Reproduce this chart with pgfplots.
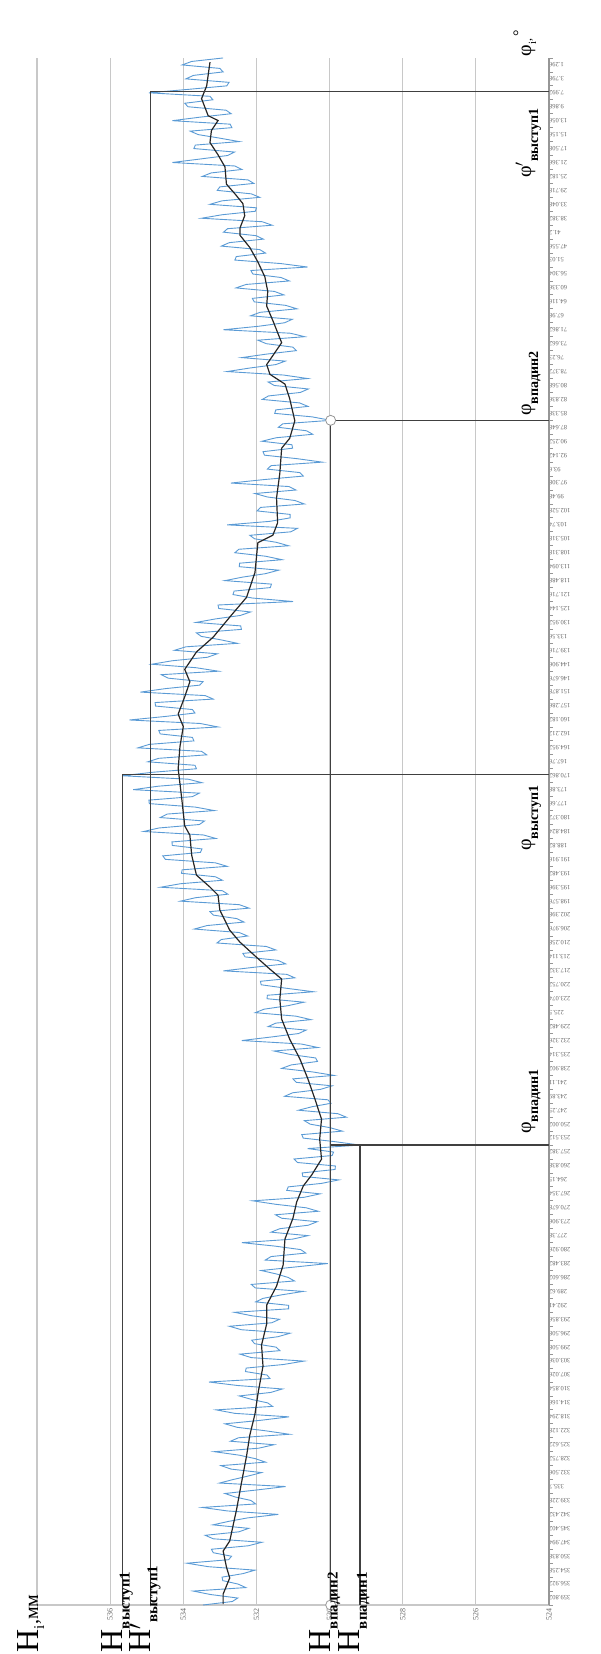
\documentclass[border=0pt]{standalone}
\usepackage{fontspec}
\setmainfont{Liberation Serif}
\usepackage{pgfplots}
\pgfplotsset{compat=1.18}
\usepackage{pgfplotstable}

\definecolor{rawblue}{RGB}{91,155,213}
\definecolor{gridgray}{RGB}{200,200,200}
\definecolor{axgray}{RGB}{150,150,150}
\definecolor{markgray}{RGB}{64,64,64}

\pgfplotstableread[row sep=\\]{
s h \\
0 533.46 \\ 0.25 532.66 \\ 0.5 532.51 \\ 0.75 533.25 \\ 1 533.73 \\ 1.25 532.29 \\ 1.5 532.50 \\ 1.75 532.92 \\ 2 532.94 \\ 2.25 532.37 \\ 2.5 532.04 \\ 2.75 533.32 \\ 3 533.90 \\ 3.25 532.76 \\ 3.5 532.68 \\ 3.75 533.18 \\ 4 533.23 \\ 4.25 532.22 \\ 4.5 531.85 \\ 4.75 533.18 \\
5 533.40 \\ 5.25 532.48 \\ 5.5 532.21 \\ 5.75 533.19 \\ 6 532.76 \\ 6.25 532.24 \\ 6.5 531.40 \\ 6.75 532.80 \\ 7 533.48 \\ 7.25 532.02 \\ 7.5 532.15 \\ 7.75 532.58 \\ 8 532.86 \\ 8.25 532.00 \\ 8.5 531.20 \\ 8.75 533.01 \\ 9 532.64 \\ 9.25 532.23 \\ 9.5 531.86 \\ 9.75 532.69 \\
10 532.97 \\ 10.25 531.75 \\ 10.5 532.03 \\ 10.75 532.47 \\ 11 533.15 \\ 11.25 531.94 \\ 11.5 531.52 \\ 11.75 532.71 \\ 12 532.49 \\ 12.25 531.10 \\ 12.5 531.75 \\ 12.75 532.53 \\ 13 532.86 \\ 13.25 531.89 \\ 13.5 531.11 \\ 13.75 532.59 \\ 14 533.10 \\ 14.25 531.56 \\ 14.5 531.69 \\ 14.75 532.13 \\
15 532.47 \\ 15.25 531.61 \\ 15.5 531.29 \\ 15.75 532.52 \\ 16 533.30 \\ 16.25 531.63 \\ 16.5 531.71 \\ 16.75 532.30 \\ 17 532.28 \\ 17.25 531.28 \\ 17.5 530.70 \\ 17.75 532.14 \\ 18 532.45 \\ 18.25 531.36 \\ 18.5 531.46 \\ 18.75 532.05 \\ 19 532.13 \\ 19.25 531.41 \\ 19.5 531.08 \\ 19.75 532.41 \\
20 532.74 \\ 20.25 531.58 \\ 20.5 531.37 \\ 20.75 532.12 \\ 21 532.60 \\ 21.25 531.12 \\ 21.5 531.12 \\ 21.75 532.02 \\ 22 531.82 \\ 22.25 531.32 \\ 22.5 530.72 \\ 22.75 532.03 \\ 23 532.14 \\ 23.25 530.96 \\ 23.5 531.13 \\ 23.75 531.45 \\ 24 531.87 \\ 24.25 530.95 \\ 24.5 530.05 \\ 24.75 531.76 \\
25 531.60 \\ 25.25 530.65 \\ 25.5 530.79 \\ 25.75 531.49 \\ 26 532.40 \\ 26.25 531.01 \\ 26.5 530.59 \\ 26.75 531.60 \\ 27 531.36 \\ 27.25 530.58 \\ 27.5 530.34 \\ 27.75 531.31 \\ 28 531.48 \\ 28.25 530.31 \\ 28.5 530.64 \\ 28.75 531.47 \\ 29 532.10 \\ 29.25 530.70 \\ 29.5 530.26 \\ 29.75 531.17 \\
30 531.13 \\ 30.25 530.22 \\ 30.5 529.75 \\ 30.75 530.73 \\ 31 530.75 \\ 31.25 529.85 \\ 31.5 529.84 \\ 31.75 530.88 \\ 32 530.97 \\ 32.25 529.93 \\ 32.5 529.89 \\ 32.75 530.60 \\ 33 529.17 \\ 33.25 529.87 \\ 33.5 530.72 \\ 33.75 530.76 \\ 34 529.65 \\ 34.25 529.99 \\ 34.5 530.53 \\ 34.75 530.69 \\
35 529.54 \\ 35.25 529.77 \\ 35.5 530.85 \\ 35.75 530.48 \\ 36 529.96 \\ 36.25 530.05 \\ 36.5 531.23 \\ 36.75 531.01 \\ 37 530.24 \\ 37.25 529.93 \\ 37.5 530.91 \\ 37.75 531.00 \\ 38 529.88 \\ 38.25 530.47 \\ 38.5 531.31 \\ 38.75 531.05 \\ 39 530.33 \\ 39.25 530.38 \\ 39.5 531.07 \\ 39.75 531.52 \\
40 530.32 \\ 40.25 530.77 \\ 40.5 532.40 \\ 40.75 531.61 \\ 41 530.85 \\ 41.25 530.64 \\ 41.5 531.68 \\ 41.75 531.47 \\ 42 530.51 \\ 42.25 530.92 \\ 42.5 532.03 \\ 42.75 531.79 \\ 43 531.14 \\ 43.25 530.70 \\ 43.5 531.71 \\ 43.75 531.70 \\ 44 530.44 \\ 44.25 531.18 \\ 44.5 531.87 \\ 44.75 531.89 \\
45 530.95 \\ 45.25 531.17 \\ 45.5 532.90 \\ 45.75 532.09 \\ 46 531.20 \\ 46.25 531.41 \\ 46.5 532.31 \\ 46.75 532.37 \\ 47 531.47 \\ 47.25 531.73 \\ 47.5 533.08 \\ 47.75 532.96 \\ 48 532.24 \\ 48.25 532.47 \\ 48.5 533.70 \\ 48.75 533.35 \\ 49 532.34 \\ 49.25 532.54 \\ 49.5 533.18 \\ 49.75 533.27 \\
50 532.20 \\ 50.25 532.47 \\ 50.5 534.08 \\ 50.75 533.66 \\ 51 532.78 \\ 51.25 532.93 \\ 51.5 534.62 \\ 51.75 534.08 \\ 52 532.93 \\ 52.25 533.12 \\ 52.5 534.05 \\ 52.75 534.03 \\ 53 532.80 \\ 53.25 533.12 \\ 53.5 534.49 \\ 53.75 534.56 \\ 54 533.53 \\ 54.25 533.49 \\ 54.5 534.30 \\ 54.75 534.31 \\
55 533.11 \\ 55.25 533.45 \\ 55.5 535.08 \\ 55.75 534.67 \\ 56 533.56 \\ 56.25 533.42 \\ 56.5 534.63 \\ 56.75 534.44 \\ 57 533.15 \\ 57.25 533.67 \\ 57.5 534.93 \\ 57.75 534.94 \\ 58 533.75 \\ 58.25 533.56 \\ 58.5 535.37 \\ 58.75 534.68 \\ 59 533.49 \\ 59.25 533.86 \\ 59.5 535.67 \\ 59.75 534.83 \\
60 533.64 \\ 60.25 533.68 \\ 60.5 534.97 \\ 60.75 534.67 \\ 61 533.36 \\ 61.25 533.50 \\ 61.5 535.24 \\ 61.75 534.93 \\ 62 533.71 \\ 62.25 533.75 \\ 62.5 534.63 \\ 62.75 534.67 \\ 63 533.05 \\ 63.25 533.54 \\ 63.5 535.47 \\ 63.75 534.50 \\ 64 533.68 \\ 64.25 533.75 \\ 64.5 534.76 \\ 64.75 534.77 \\
65 533.18 \\ 65.25 533.40 \\ 65.5 535.17 \\ 65.75 534.49 \\ 66 533.55 \\ 66.25 533.46 \\ 66.5 534.41 \\ 66.75 534.60 \\ 67 533.04 \\ 67.25 533.65 \\ 67.5 534.86 \\ 67.75 534.30 \\ 68 533.34 \\ 68.25 533.07 \\ 68.5 534.24 \\ 68.75 533.93 \\ 69 532.52 \\ 69.25 532.97 \\ 69.5 533.51 \\ 69.75 533.64 \\
70 532.41 \\ 70.25 532.43 \\ 70.5 533.65 \\ 70.75 533.12 \\ 71 532.44 \\ 71.25 532.16 \\ 71.5 533.03 \\ 71.75 533.05 \\ 72 531.00 \\ 72.25 532.11 \\ 72.5 532.64 \\ 72.75 532.61 \\ 73 531.62 \\ 73.25 531.59 \\ 73.5 532.86 \\ 73.75 532.38 \\ 74 531.75 \\ 74.25 531.39 \\ 74.5 532.47 \\ 74.75 532.46 \\
75 531.30 \\ 75.25 531.75 \\ 75.5 532.59 \\ 75.75 532.48 \\ 76 531.12 \\ 76.25 531.46 \\ 76.5 532.05 \\ 76.75 532.18 \\ 77 531.06 \\ 77.25 530.88 \\ 77.5 532.80 \\ 77.75 531.64 \\ 78 531.08 \\ 78.25 531.08 \\ 78.5 531.98 \\ 78.75 531.89 \\ 79 530.69 \\ 79.25 530.95 \\ 79.5 531.70 \\ 79.75 532.04 \\
80 530.92 \\ 80.25 531.11 \\ 80.5 532.70 \\ 80.75 531.79 \\ 81 530.72 \\ 81.25 530.81 \\ 81.5 531.70 \\ 81.75 531.60 \\ 82 530.20 \\ 82.25 530.89 \\ 82.5 531.78 \\ 82.75 531.82 \\ 83 531.01 \\ 83.25 531.03 \\ 83.5 531.85 \\ 83.75 531.46 \\ 84 530.46 \\ 84.25 530.63 \\ 84.5 531.40 \\ 84.75 531.28 \\
85 529.97 \\ 85.25 530.48 \\ 85.5 531.50 \\ 85.75 531.47 \\ 86 530.59 \\ 86.25 530.82 \\ 86.5 531.84 \\ 86.75 531.67 \\ 87 530.80 \\ 87.25 530.58 \\ 87.5 531.51 \\ 87.75 531.68 \\ 88 530.60 \\ 88.25 531.26 \\ 88.5 532.80 \\ 88.75 532.19 \\ 89 531.47 \\ 89.25 531.21 \\ 89.5 532.40 \\ 89.75 531.73 \\
90 530.91 \\ 90.25 531.00 \\ 90.5 531.73 \\ 90.75 531.96 \\ 91 530.68 \\ 91.25 531.07 \\ 91.5 532.90 \\ 91.75 531.94 \\ 92 531.23 \\ 92.25 531.02 \\ 92.5 532.16 \\ 92.75 531.90 \\ 93 530.89 \\ 93.25 531.20 \\ 93.5 532.06 \\ 93.75 532.11 \\ 94 531.25 \\ 94.25 531.51 \\ 94.5 532.56 \\ 94.75 532.28 \\
95 531.10 \\ 95.25 531.33 \\ 95.5 532.10 \\ 95.75 532.15 \\ 96 530.60 \\ 96.25 531.34 \\ 96.5 532.59 \\ 96.75 532.55 \\ 97 531.75 \\ 97.25 531.91 \\ 97.5 532.96 \\ 97.75 532.74 \\ 98 531.81 \\ 98.25 532.01 \\ 98.5 532.90 \\ 98.75 532.79 \\ 99 531.57 \\ 99.25 531.84 \\ 99.5 533.50 \\ 99.75 532.94 \\
100 532.03 \\ 100.25 532.00 \\ 100.5 533.27 \\ 100.75 532.94 \\ 101 531.91 \\ 101.25 532.14 \\ 101.5 533.07 \\ 101.75 533.00 \\ 102 532.07 \\ 102.25 532.23 \\ 102.5 533.48 \\ 102.75 533.24 \\ 103 532.40 \\ 103.25 532.59 \\ 103.5 534.30 \\ 103.75 533.54 \\ 104 532.79 \\ 104.25 532.60 \\ 104.5 533.71 \\ 104.75 533.67 \\
105 532.47 \\ 105.25 533.01 \\ 105.5 533.59 \\ 105.75 533.81 \\ 106 532.67 \\ 106.25 532.72 \\ 106.5 534.30 \\ 106.75 533.55 \\ 107 532.69 \\ 107.25 532.83 \\ 107.5 533.87 \\ 107.75 533.96 \\ 108 533.19 \\ 108.25 533.27 \\ 108.5 534.94 \\ 108.75 533.85 \\ 109 532.81 \\ 109.25 532.75 \\ 109.5 533.93 \\ 109.75 533.72 \\
110 532.91 \\ 110.25 533.00 \\ 110.5 534.03 \\ 110.75 533.77 \\ 111 532.91 \\
}\rawdata

\pgfplotstableread[row sep=\\]{
s h \\
0.07 532.91 \\ 0.79 532.91 \\ 1.94 532.73 \\ 2.73 532.82 \\ 3.87 532.91 \\ 4.59 532.73 \\ 6.89 532.54 \\ 8.75 532.41 \\
10.69 532.27 \\ 12.20 532.18 \\ 13.70 532.04 \\ 15.28 531.95 \\ 17.14 531.82 \\ 18.65 531.86 \\ 20.16 531.72 \\ 21.52 531.72 \\
22.88 531.45 \\ 24.39 531.27 \\ 26.26 531.22 \\ 27.76 531.00 \\ 28.91 530.90 \\ 30.06 530.72 \\ 30.85 530.49 \\ 31.99 530.22 \\
33.43 530.27 \\ 34.86 530.22 \\ 36.30 530.40 \\ 37.73 530.59 \\ 39.17 530.81 \\ 40.60 531.09 \\ 42.04 531.31 \\ 43.47 531.36 \\
44.91 531.31 \\ 45.62 531.63 \\ 46.48 532.00 \\ 47.56 532.45 \\ 48.42 532.73 \\ 49.86 533.00 \\ 50.93 533.05 \\ 51.51 533.27 \\
52.37 533.64 \\ 53.80 533.77 \\ 55.24 533.82 \\ 55.90 533.96 \\ 58.04 534.05 \\ 60.00 534.14 \\ 61.61 534.09 \\ 63.03 534.00 \\
63.92 534.14 \\ 65.17 533.96 \\ 66.24 533.82 \\ 67.13 533.96 \\ 68.38 533.64 \\ 69.45 533.18 \\ 70.88 532.73 \\ 72.30 532.27 \\
74.08 532.04 \\ 75.15 532.00 \\ 76.22 531.96 \\ 76.76 531.55 \\ 77.65 531.42 \\ 79.43 531.45 \\ 81.21 531.36 \\ 83.00 531.31 \\
83.71 531.09 \\ 84.97 530.95 \\ 86.55 531.09 \\ 87.60 531.22 \\ 88.30 531.63 \\ 89.00 531.72 \\ 90.57 531.31 \\ 92.15 531.55 \\
93.20 531.72 \\ 94.25 531.69 \\ 95.30 531.77 \\ 96.36 531.96 \\ 97.40 532.18 \\ 98.28 532.45 \\ 98.80 532.45 \\ 99.68 532.32 \\
100.55 532.37 \\ 101.26 532.59 \\ 101.95 532.82 \\ 103.18 532.86 \\ 104.05 533.05 \\ 104.93 533.27 \\ 105.80 533.23 \\ 106.51 533.05 \\
106.86 533.32 \\ 108.08 533.50 \\ 109.00 533.36 \\ 110.70 533.27 \\
}\smoothdata

\newcommand{\Hbig}{\fontsize{32}{32}\selectfont}
\newcommand{\subf}{\fontsize{15}{15}\selectfont\bfseries}
\newcommand{\phif}{\fontsize{20}{20}\selectfont}
\newcommand{\phisub}{\fontsize{14}{14}\selectfont\bfseries}

\begin{document}
\begin{tikzpicture}
\begin{axis}[
  at={(37pt,49pt)}, anchor=south west,
  scale only axis, width=512pt, height=1547pt,
  x dir=reverse, xmin=524, xmax=538, ymin=0, ymax=111,
  axis line style={draw=none},
  clip=false,
  xtick={524,526,...,536},
  extra x ticks={538}, extra x tick labels={},
  xmajorgrids,
  major grid style={gridgray, line width=1.2pt},
  xticklabel style={rotate=90, anchor=east, font=\fontsize{8}{8}\selectfont, text=black!60},
  /pgf/number format/assume math mode=true,
  xtick pos=bottom,
  major tick length=0pt,
  ytick pos=right, yticklabel pos=right,
  ytick={0.5,1.5,...,111},
  yticklabels={359.802,356.922,354.258,350.838,347.994,345.402,342.432,339.228,335.7,332.506,328.752,325.622,322.128,318.294,314.166,310.854,307.026,303.036,299.508,296.508,293.856,292.41,289.62,286.602,283.482,280.926,277.38,273.906,270.678,267.354,264.15,260.838,257.382,253.512,250.002,247.25,243.89,241.11,238.902,235.314,232.326,229.482,225.5,223.074,220.752,217.332,213.114,210.258,206.976,202.398,198.576,195.396,193.482,191.916,188.82,184.824,180.372,177.66,173.88,170.862,167.76,164.952,162.212,160.182,157.286,151.878,146.676,144.906,139.716,133.56,130.952,125.144,121.716,118.488,113.094,108.318,105.318,103.74,102.528,99.48,97.308,93.6,92.142,90.252,87.648,85.338,82.836,80.568,78.372,76.23,73.662,71.862,67.98,64.116,60.336,56.304,51.03,47.556,41.2,38.382,33.048,29.718,25.182,21.366,17.508,15.156,13.056,9.868,7.992,3.798,1.296},
  yticklabel style={rotate=180, anchor=east, font=\fontsize{6.5}{7}\selectfont, text=black!60, inner sep=1pt, xshift=1pt},
  minor ytick={0,1,...,111},
  minor tick length=4pt,
  tick align=outside,
  ytick style={axgray, line width=0.8pt},
]
\draw[gridgray, line width=1.2pt] (axis cs:538,0) -- (axis cs:524,0);
\addplot[rawblue, line width=0.9pt] table[x=h,y=s] {\rawdata};
\addplot[black!85, line width=1.2pt] table[x=h,y=s] {\smoothdata};
\draw[axgray, line width=2.5pt] (axis cs:524,0) -- (axis cs:524,111);

% marker lines
\draw[markgray, line width=1.5pt] (axis cs:524,108.6) -- (axis cs:534.9,108.6) -- (axis cs:534.9,0);
\draw[markgray, line width=1.5pt] (axis cs:524,59.6) -- (axis cs:535.66,59.6) -- (axis cs:535.66,0);
\draw[markgray, line width=1.5pt] (axis cs:524,85) -- (axis cs:529.97,85) -- (axis cs:529.97,0);
\draw[markgray, line width=1.5pt] (axis cs:524,33) -- (axis cs:529.97,33);
\draw[markgray, line width=1.5pt] (axis cs:529.17,33) -- (axis cs:529.17,0);
\draw[axgray, fill=white, line width=0.8pt] (axis cs:529.97,85) circle[radius=5pt];
\draw[axgray, fill=white, line width=0.8pt] (axis cs:529.97,0) circle[radius=5pt];

% phi labels
\node[rotate=90, anchor=base east, inner sep=0pt] at (axis cs:524.49,107.4) {{\phif φ$'$}\raisebox{-7pt}{\phisub выступ1}};
\node[rotate=90, anchor=base east, inner sep=0pt] at (axis cs:524.49,58.8) {{\phif φ}\raisebox{-7pt}{\phisub выступ1}};
\node[rotate=90, anchor=base west, inner sep=0pt] at (axis cs:524.49,85.3) {{\phif φ}\raisebox{-7pt}{\phisub впадин2}};
\node[rotate=90, anchor=base west, inner sep=0pt] at (axis cs:524.49,33.8) {{\phif φ}\raisebox{-7pt}{\phisub впадин1}};
\node[rotate=90, anchor=base west, inner sep=0pt] at (axis cs:524.49,111.1) {{\phif φ}\raisebox{-5pt}{\fontsize{11}{11}\selectfont i}{\fontsize{12}{12}\selectfont ,\,}\raisebox{7pt}{\fontsize{16}{16}\selectfont °}};

% H labels
\node[rotate=90, anchor=base west, inner sep=0pt] at (axis cs:537.97,-3.4) {{\Hbig H}\raisebox{-6pt}{\fontsize{15}{15}\selectfont i}{\fontsize{20}{20}\selectfont ,мм}};
\node[rotate=90, anchor=base west, inner sep=0pt] at (axis cs:535.66,-3.4) {{\Hbig H}\raisebox{-7pt}{\subf выступ1}};
\node[rotate=90, anchor=base west, inner sep=0pt] at (axis cs:534.9,-3.4) {{\Hbig H$'$}\raisebox{-7pt}{\subf выступ1}};
\node[rotate=90, anchor=base west, inner sep=0pt] at (axis cs:529.97,-3.4) {{\Hbig H}\raisebox{-7pt}{\subf впадин2}};
\node[rotate=90, anchor=base west, inner sep=0pt] at (axis cs:529.17,-3.4) {{\Hbig H}\raisebox{-7pt}{\subf впадин1}};
\end{axis}
\pgfresetboundingbox
\useasboundingbox (0,0) rectangle (600pt,1654pt);
\end{tikzpicture}
\end{document}
